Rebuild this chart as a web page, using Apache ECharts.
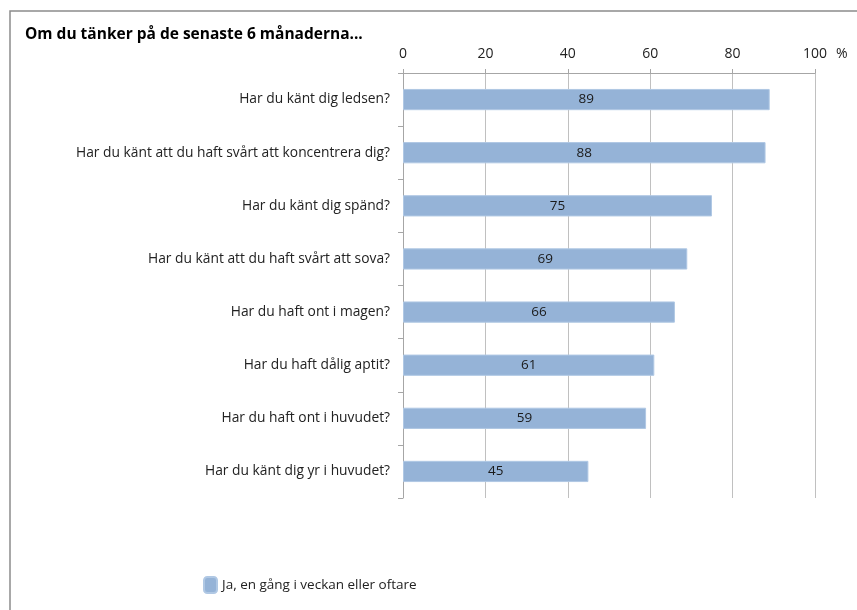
<!DOCTYPE html>
<html>
<head>
<meta charset="utf-8">
<script src="https://cdn.jsdelivr.net/npm/echarts@6/dist/echarts.min.js"></script>
<style>
  html, body { margin: 0; padding: 0; background: #fff; }
  #chart { width: 857px; height: 610px; }
</style>
</head>
<body>
<div id="chart"></div>
<script>
// categories top to bottom
var questions = [
  "Har du känt dig ledsen?",
  "Har du känt att du haft svårt att koncentrera dig?",
  "Har du känt dig spänd?",
  "Har du känt att du haft svårt att sova?",
  "Har du haft ont i magen?",
  "Har du haft dålig aptit?",
  "Har du haft ont i huvudet?",
  "Har du känt dig yr i huvudet?"
];
var weeklyOrMore = [89, 88, 75, 69, 66, 61, 59, 45];
var seriesName = "Ja, en gång i veckan eller oftare";
var titleText = "Om du tänker på de senaste 6 månaderna...";
var unitText = "%";

var font = "'Open Sans', Lato, sans-serif";
var chart = echarts.init(document.getElementById("chart"));

var option = {
  animation: false,
  textStyle: { fontFamily: font },
  title: {
    text: titleText,
    left: 20,
    top: 22,
    textStyle: { fontSize: 15.5, fontWeight: "bold", color: "#000", fontFamily: font },
  },
  graphic: [
    {
      type: "polyline",
      shape: { points: [[10, 700], [10, 11], [900, 11]] },
      style: { stroke: "#8c8c8c", lineWidth: 1.5, fill: null },
      silent: true,
    },
    {
      type: "text",
      left: 836,
      top: 47,
      style: { text: unitText, fontSize: 14, fill: "#222", fontFamily: font },
    },
  ],
  legend: {
    left: 198,
    top: 571,
    itemWidth: 13,
    itemHeight: 16,
    itemGap: 8,
    textStyle: { fontSize: 13.5, color: "#222", fontFamily: font },
    data: [seriesName],
  },
  grid: { left: 403, right: 42, top: 73, bottom: 112, containLabel: false },
  xAxis: {
    type: "value",
    position: "top",
    min: 0,
    max: 100,
    interval: 20,
    axisLine: { show: true, lineStyle: { color: "#a6a6a6" } },
    axisTick: { show: true, length: 4, lineStyle: { color: "#a6a6a6" } },
    axisLabel: { fontSize: 14, color: "#222", margin: 12 },
    splitLine: { show: true, lineStyle: { color: "#c0c0c0" } },
  },
  yAxis: {
    type: "category",
    inverse: true,
    data: questions,
    axisLine: { show: true, lineStyle: { color: "#a6a6a6" } },
    axisTick: { show: true, length: 5, lineStyle: { color: "#a6a6a6" } },
    axisLabel: { fontSize: 13.8, color: "#222", margin: 13 },
  },
  series: [
    {
      name: seriesName,
      type: "bar",
      data: weeklyOrMore,
      barCategoryGap: "60%",
      itemStyle: { color: "#95b3d7", borderColor: "#b0c8e4", borderWidth: 1 },
      label: { show: true, position: "inside", fontSize: 13.5, color: "#1a1a1a" },
    },
  ],
};

chart.setOption(option);
</script>
</body>
</html>
